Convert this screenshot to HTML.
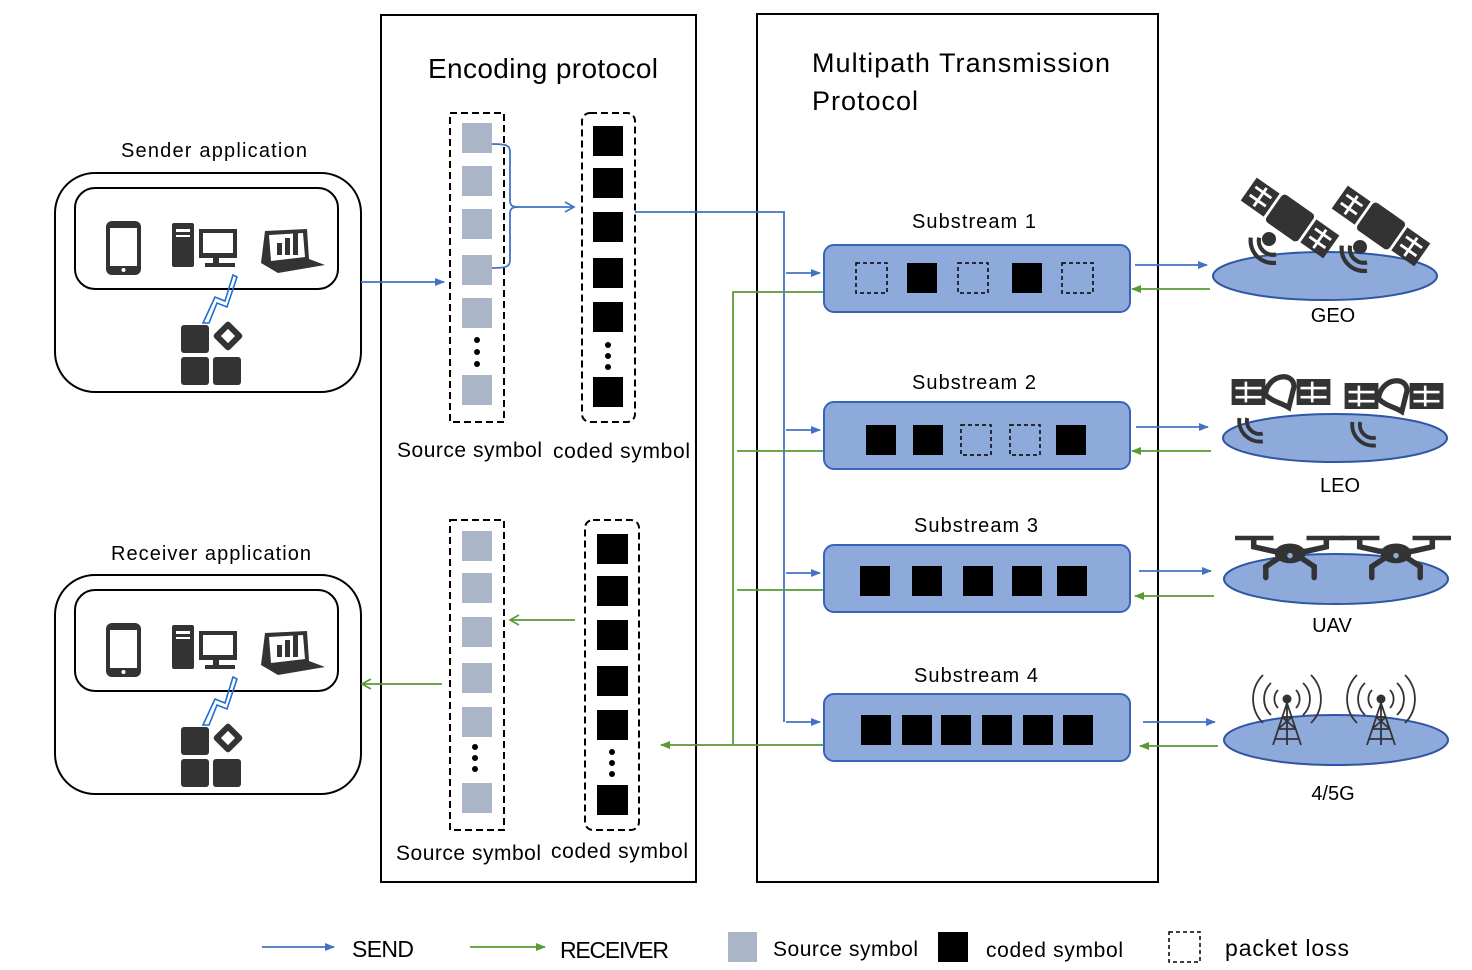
<!DOCTYPE html>
<html><head><meta charset="utf-8"><style>body{margin:0;background:#fff}svg{display:block}text{font-family:"Liberation Sans",sans-serif;fill:#000}</style></head><body>
<svg width="1472" height="970" viewBox="0 0 1472 970" xmlns="http://www.w3.org/2000/svg">
<defs>
<marker id="ab" markerWidth="10" markerHeight="10" refX="9" refY="5" orient="auto" markerUnits="userSpaceOnUse"><path d="M0,1 L10,5 L0,9Z" fill="#4472c4"/></marker>
<marker id="ag" markerWidth="10" markerHeight="10" refX="9" refY="5" orient="auto" markerUnits="userSpaceOnUse"><path d="M0,1 L10,5 L0,9Z" fill="#5a9a32"/></marker>
<marker id="ao" markerWidth="12" markerHeight="12" refX="10" refY="6" orient="auto" markerUnits="userSpaceOnUse"><path d="M1,1 L10,6 L1,11" fill="none" stroke="#4472c4" stroke-width="1.6"/></marker>
<marker id="aog" markerWidth="12" markerHeight="12" refX="10" refY="6" orient="auto" markerUnits="userSpaceOnUse"><path d="M1,1 L10,6 L1,11" fill="none" stroke="#5a9a32" stroke-width="1.6"/></marker>
<g id="app">
 <rect x="0" y="0" width="306" height="219" rx="40" fill="none" stroke="#000" stroke-width="2"/>
 <rect x="20" y="15" width="263" height="101" rx="20" fill="none" stroke="#000" stroke-width="2"/>
 <rect x="51" y="48" width="35" height="54" rx="6" fill="#333"/><rect x="55" y="55" width="27" height="38" fill="#fff"/><circle cx="68.5" cy="97" r="2" fill="#fff"/>
 <rect x="117" y="50" width="22" height="44" rx="2" fill="#333"/><rect x="121" y="56" width="14" height="3" fill="#fff"/><rect x="121" y="62" width="14" height="2" fill="#fff"/>
 <rect x="144" y="56" width="38" height="29" fill="#333"/><rect x="148" y="60" width="30" height="20" fill="#fff"/><rect x="158" y="85" width="6" height="5" fill="#333"/><rect x="150" y="90" width="30" height="4" fill="#333"/>
 <path d="M210,58 L252,56 L254,86 L270,92 L223,100 L206,90 Z" fill="#333"/><path d="M214,62 L248,60 L250,84 L216,88Z" fill="#fff"/>
 <rect x="222" y="70" width="5" height="12" fill="#333"/><rect x="230" y="65" width="5" height="17" fill="#333"/><rect x="238" y="58" width="5" height="24" fill="#333"/>
 <path d="M178,102 L170,128 L160,124 L148,150 L154,150 L162,130 L172,134 L182,104Z" fill="none" stroke="#1f6fd0" stroke-width="1.6"/>
 <rect x="126" y="152" width="28" height="28" rx="3" fill="#333"/><rect x="126" y="184" width="28" height="28" rx="3" fill="#333"/><rect x="158" y="184" width="28" height="28" rx="3" fill="#333"/>
 <rect x="162" y="152" width="22" height="22" rx="3" fill="#333" transform="rotate(45 173 163)"/><rect x="168" y="158" width="10" height="10" fill="#fff" transform="rotate(45 173 163)"/>
</g>
<g id="sat">
 <g transform="rotate(35)">
 <rect x="-14" y="-12" width="28" height="24" rx="3" fill="#333"/>
 <rect x="-36" y="-10" width="20" height="20" fill="#333"/><rect x="16" y="-10" width="20" height="20" fill="#333"/>
 <path d="M-33,-4h14M-33,3h14M-26,-8v16M19,-4h14M19,3h14M26,-8v16" stroke="#fff" stroke-width="2"/>
 </g>
 <path d="M-22,14 a10,10 0 0 0 12,12 M-28,14 a16,16 0 0 0 18,18" fill="none" stroke="#333" stroke-width="3"/>
 <circle cx="-15" cy="15" r="5" fill="#333"/>
</g>
<g id="leo">
 <rect x="-38" y="-10" width="26" height="20" fill="#333"/><rect x="12" y="-10" width="26" height="20" fill="#333"/>
 <path d="M-35,-3h20M-35,4h20M-27,-8v16M15,-3h20M15,4h20M24,-8v16" stroke="#fff" stroke-width="2"/>
 <path d="M-12,2 C-10,-14 10,-16 10,-4 L6,12 C0,8 -6,8 -12,2Z" fill="none" stroke="#333" stroke-width="4"/>
 <path d="M-26,20 a10,10 0 0 0 12,12 M-32,20 a16,16 0 0 0 18,18" fill="none" stroke="#333" stroke-width="3"/>
</g>
<g id="uav">
 <path d="M-50,0h35M15,0h35" stroke="#333" stroke-width="4"/>
 <path d="M-33,0v8 L-15,12 L15,12 L33,8 V0" stroke="#333" stroke-width="5" fill="none"/>
 <ellipse cx="0" cy="14" rx="14" ry="9" fill="#333"/>
 <path d="M-10,18 L-22,26 V36 M10,18 L22,26 V36" stroke="#333" stroke-width="5" fill="none" stroke-linecap="round"/>
 <circle cx="0" cy="16" r="2.5" fill="#8eaadb"/>
</g>
<g id="tower">
 <circle cx="0" cy="0" r="4.5" fill="#333"/>
 <path d="M0,4 L-14,46 M0,4 L14,46 M0,4 V46 M-5,18h10 M-9,30h18 M-12,40h24 M-5,18 L9,30 M5,18 L-9,30" stroke="#333" stroke-width="1.8" fill="none"/>
 <path d="M-9,-9 a13,13 0 0 0 0,18 M9,-9 a13,13 0 0 1 0,18 M-16,-16 a22,22 0 0 0 0,32 M16,-16 a22,22 0 0 1 0,32 M-24,-24 a34,34 0 0 0 0,48 M24,-24 a34,34 0 0 1 0,48" stroke="#333" stroke-width="1.8" fill="none"/>
</g>
</defs>

<rect x="381" y="15" width="315" height="867" fill="none" stroke="#000" stroke-width="2"/>
<rect x="757" y="14" width="401" height="868" fill="none" stroke="#000" stroke-width="2"/>
<text x="543" y="78" font-size="28" text-anchor="middle" textLength="230">Encoding protocol</text>
<text x="812" y="72" font-size="27" textLength="298">Multipath Transmission</text>
<text x="812" y="110" font-size="27" textLength="106">Protocol</text>

<text x="214" y="157" font-size="20" text-anchor="middle" textLength="186">Sender application</text>
<use href="#app" x="55" y="173"/>
<text x="211" y="560" font-size="20" text-anchor="middle" textLength="200">Receiver application</text>
<use href="#app" x="55" y="575"/>

<rect x="450" y="113" width="54" height="309" fill="none" stroke="#000" stroke-width="2" stroke-dasharray="7,4"/>
<g fill="#aab6c8">
<rect x="462" y="123" width="30" height="30"/><rect x="462" y="166" width="30" height="30"/><rect x="462" y="209" width="30" height="30"/><rect x="462" y="255" width="30" height="30"/><rect x="462" y="298" width="30" height="30"/><rect x="462" y="375" width="30" height="30"/>
</g>
<g fill="#000"><circle cx="477" cy="340" r="3"/><circle cx="477" cy="352" r="3"/><circle cx="477" cy="364" r="3"/></g>
<rect x="582" y="113" width="53" height="309" rx="8" fill="none" stroke="#000" stroke-width="2" stroke-dasharray="7,4"/>
<g fill="#000">
<rect x="593" y="126" width="30" height="30"/><rect x="593" y="168" width="30" height="30"/><rect x="593" y="212" width="30" height="30"/><rect x="593" y="258" width="30" height="30"/><rect x="593" y="302" width="30" height="30"/><rect x="593" y="377" width="30" height="30"/>
<circle cx="608" cy="345" r="3"/><circle cx="608" cy="356" r="3"/><circle cx="608" cy="367" r="3"/>
</g>
<text x="397" y="457" font-size="21" textLength="145">Source symbol</text>
<text x="553" y="458" font-size="21" textLength="137">coded symbol</text>

<rect x="450" y="520" width="54" height="310" fill="none" stroke="#000" stroke-width="2" stroke-dasharray="7,4"/>
<g fill="#aab6c8">
<rect x="462" y="531" width="30" height="30"/><rect x="462" y="573" width="30" height="30"/><rect x="462" y="617" width="30" height="30"/><rect x="462" y="663" width="30" height="30"/><rect x="462" y="707" width="30" height="30"/><rect x="462" y="783" width="30" height="30"/>
</g>
<g fill="#000"><circle cx="475" cy="747" r="3"/><circle cx="475" cy="758" r="3"/><circle cx="475" cy="769" r="3"/></g>
<rect x="585" y="520" width="54" height="310" rx="8" fill="none" stroke="#000" stroke-width="2" stroke-dasharray="7,4"/>
<g fill="#000">
<rect x="597" y="534" width="31" height="30"/><rect x="597" y="576" width="31" height="30"/><rect x="597" y="620" width="31" height="30"/><rect x="597" y="666" width="31" height="30"/><rect x="597" y="710" width="31" height="30"/><rect x="597" y="785" width="31" height="30"/>
<circle cx="612" cy="752" r="3"/><circle cx="612" cy="763" r="3"/><circle cx="612" cy="774" r="3"/>
</g>
<text x="396" y="860" font-size="21" textLength="145">Source symbol</text>
<text x="551" y="858" font-size="21" textLength="137">coded symbol</text>

<g stroke="#4472c4" stroke-width="1.8" fill="none">
<path d="M361,282 H444" marker-end="url(#ab)"/>
<path d="M492,144 C508,144 510,146 510,152 V200 C510,206 512,207 520,207 M492,268 C508,268 510,266 510,260 V214 C510,208 512,207 520,207 H574" marker-end="url(#ao)"/>
<path d="M635,212 H784 V722"/>
<path d="M786,273 H820" marker-end="url(#ab)"/>
<path d="M786,430 H820" marker-end="url(#ab)"/>
<path d="M786,573 H820" marker-end="url(#ab)"/>
<path d="M786,722 H820" marker-end="url(#ab)"/>
<path d="M1135,265 H1207" marker-end="url(#ab)"/>
<path d="M1136,427 H1208" marker-end="url(#ab)"/>
<path d="M1139,571 H1211" marker-end="url(#ab)"/>
<path d="M1143,722 H1215" marker-end="url(#ab)"/>
<path d="M262,947 H334" marker-end="url(#ab)"/>
</g>
<g stroke="#5a9a32" stroke-width="1.8" fill="none">
<path d="M824,292 H733 V745"/>
<path d="M824,451 H737"/>
<path d="M824,590 H737"/>
<path d="M824,745 H661" marker-end="url(#ag)"/>
<path d="M1210,289 H1132" marker-end="url(#ag)"/>
<path d="M1211,451 H1132" marker-end="url(#ag)"/>
<path d="M1214,596 H1135" marker-end="url(#ag)"/>
<path d="M1218,746 H1140" marker-end="url(#ag)"/>
<path d="M575,620 H510" marker-end="url(#aog)"/>
<path d="M442,684 H362" marker-end="url(#aog)"/>
<path d="M470,947 H545" marker-end="url(#ag)"/>
</g>

<g fill="#8eaadb" stroke="#3a62b8" stroke-width="2">
<rect x="824" y="245" width="306" height="67" rx="10"/>
<rect x="824" y="402" width="306" height="67" rx="10"/>
<rect x="824" y="545" width="306" height="67" rx="10"/>
<rect x="824" y="694" width="306" height="67" rx="10"/>
</g>
<g font-size="20" text-anchor="middle">
<text x="974" y="228" textLength="124">Substream 1</text>
<text x="974" y="389" textLength="124">Substream 2</text>
<text x="976" y="532" textLength="124">Substream 3</text>
<text x="976" y="682" textLength="124">Substream 4</text>
</g>
<g fill="none" stroke="#000" stroke-width="1.5" stroke-dasharray="4,3">
<rect x="856" y="263" width="31" height="30"/><rect x="958" y="263" width="30" height="30"/><rect x="1062" y="263" width="31" height="30"/>
<rect x="961" y="425" width="30" height="30"/><rect x="1010" y="425" width="30" height="30"/>
</g>
<g fill="#000">
<rect x="907" y="263" width="30" height="30"/><rect x="1012" y="263" width="30" height="30"/>
<rect x="866" y="425" width="30" height="30"/><rect x="913" y="425" width="30" height="30"/><rect x="1056" y="425" width="30" height="30"/>
<rect x="860" y="566" width="30" height="30"/><rect x="912" y="566" width="30" height="30"/><rect x="963" y="566" width="30" height="30"/><rect x="1012" y="566" width="30" height="30"/><rect x="1057" y="566" width="30" height="30"/>
<rect x="861" y="715" width="30" height="30"/><rect x="902" y="715" width="30" height="30"/><rect x="941" y="715" width="30" height="30"/><rect x="982" y="715" width="30" height="30"/><rect x="1023" y="715" width="30" height="30"/><rect x="1063" y="715" width="30" height="30"/>
</g>

<g fill="#8eaadb" stroke="#2f55a4" stroke-width="2">
<ellipse cx="1325" cy="276" rx="112" ry="24"/>
<ellipse cx="1335" cy="438" rx="112" ry="24"/>
<ellipse cx="1336" cy="579" rx="112" ry="25"/>
<ellipse cx="1336" cy="740" rx="112" ry="25"/>
</g>
<use href="#sat" transform="translate(1290 218) scale(1.4)"/><use href="#sat" transform="translate(1381 226) scale(1.4)"/>
<use href="#leo" transform="translate(1281 392) scale(1.3)"/><use href="#leo" transform="translate(1394 396) scale(1.3)"/>
<use href="#uav" transform="translate(1290 538) scale(1.1)"/><use href="#uav" transform="translate(1396 538) scale(1.1)"/>
<use href="#tower" x="1287" y="699"/><use href="#tower" x="1381" y="699"/>
<g font-size="20" text-anchor="middle">
<text x="1333" y="322">GEO</text>
<text x="1340" y="492">LEO</text>
<text x="1332" y="632">UAV</text>
<text x="1333" y="800">4/5G</text>
</g>

<text x="352" y="957" font-size="23" textLength="62">SEND</text>
<text x="560" y="958" font-size="23" textLength="109">RECEIVER</text>
<rect x="728" y="932" width="29" height="30" fill="#aab6c8"/>
<text x="773" y="956" font-size="21" textLength="145">Source symbol</text>
<rect x="938" y="932" width="30" height="30" fill="#000"/>
<text x="986" y="957" font-size="21" textLength="137">coded symbol</text>
<rect x="1169" y="932" width="31" height="30" fill="none" stroke="#000" stroke-width="1.5" stroke-dasharray="4,3"/>
<text x="1225" y="956" font-size="23" textLength="124">packet loss</text>
</svg>
</body></html>
